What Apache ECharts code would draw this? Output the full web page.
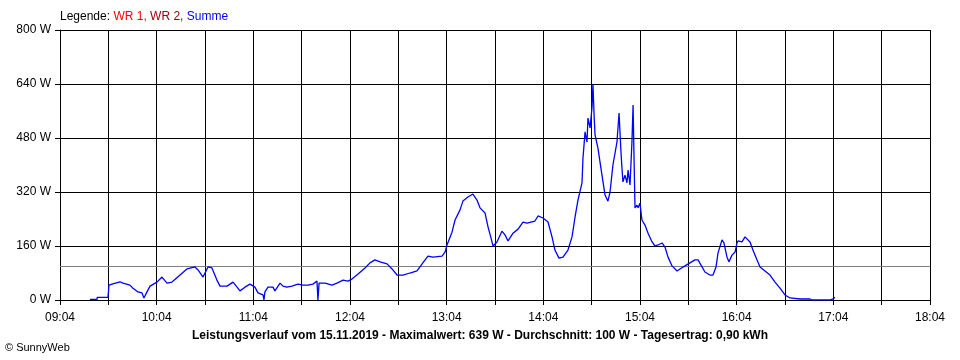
<!DOCTYPE html>
<html>
<head>
<meta charset="utf-8">
<script src="https://cdn.jsdelivr.net/npm/echarts@6/dist/echarts.min.js"></script>
<style>html,body{margin:0;padding:0;background:#fff}#c{width:960px;height:360px}</style>
</head>
<body>
<div id="c"></div>
<script>
// ---- data ----
const startTime = "09:04";
const endTime = "18:04";
const yTicks = [0, 160, 320, 480, 640, 800];
const average = 100;
const maximum = 639;
const dailyYield = "0,90";
const dateText = "15.11.2019";
const times = ["09:22:36","09:27:00","09:27:06","09:33:48","09:34:24","09:36:18","09:41:12","09:43:06","09:47:24","09:49:18","09:52:24","09:54:54","09:56:06","09:58:00","09:59:54","10:04:12","10:07:18","10:10:24","10:13:30","10:18:30","10:22:48","10:27:48","10:29:42","10:32:48","10:34:00","10:35:54","10:38:18","10:41:24","10:43:18","10:47:42","10:51:24","10:53:54","10:55:42","10:58:48","11:01:54","11:05:00","11:06:54","11:10:00","11:10:36","11:11:12","11:13:06","11:16:12","11:17:24","11:20:36","11:22:24","11:24:54","11:28:00","11:31:42","11:34:48","11:37:54","11:41:00","11:43:30","11:44:06","11:44:48","11:48:30","11:52:48","11:55:54","11:59:42","12:02:48","12:05:12","12:09:00","12:13:18","12:16:24","12:19:30","12:22:36","12:27:00","12:30:06","12:33:12","12:36:54","12:41:12","12:45:36","12:47:24","12:50:36","12:52:24","12:55:30","13:01:06","13:03:00","13:04:12","13:07:18","13:09:12","13:12:18","13:14:06","13:17:12","13:20:18","13:22:48","13:24:42","13:27:48","13:29:42","13:31:30","13:32:48","13:35:12","13:38:18","13:40:12","13:42:06","13:45:12","13:48:18","13:51:24","13:53:54","13:58:48","14:00:42","14:03:48","14:06:54","14:09:24","14:11:12","14:13:42","14:16:12","14:19:18","14:21:48","14:23:42","14:25:30","14:28:00","14:28:36","14:29:54","14:31:06","14:31:42","14:33:00","14:34:12","14:34:48","14:35:30","14:36:06","14:37:54","14:40:24","14:42:18","14:44:06","14:45:24","14:47:12","14:49:42","14:51:00","14:52:12","14:52:48","14:53:24","14:54:42","14:55:54","14:56:36","14:57:48","14:59:00","14:59:42","15:00:18","15:00:54","15:02:06","15:02:48","15:04:00","15:05:12","15:07:06","15:09:00","15:11:30","15:13:18","15:15:12","15:17:42","15:19:30","15:21:24","15:23:54","15:27:00","15:28:48","15:31:54","15:35:00","15:38:06","15:40:00","15:42:30","15:44:18","15:47:24","15:49:18","15:51:12","15:52:24","15:54:54","15:56:06","15:58:00","15:59:12","16:01:06","16:03:00","16:04:12","16:04:48","16:07:18","16:09:12","16:10:24","16:12:18","16:14:06","16:16:36","16:18:30","16:21:36","16:24:42","16:27:48","16:30:54","16:34:00","16:37:06","16:43:18","16:49:30","16:50:48","17:01:54","17:03:48","17:05:00"];
const summeW = [2,2,8,8,44,47,54,50,44,35,24,21,6,24,41,53,68,50,53,74,92,98,89,68,80,98,95,59,41,41,53,38,27,38,47,38,21,15,0,24,38,38,27,50,41,38,41,47,44,44,47,56,0,50,50,44,50,59,56,62,77,95,110,119,113,107,92,74,74,80,86,98,119,130,127,130,142,163,201,237,267,293,305,314,296,273,258,216,184,160,172,204,193,175,198,210,231,228,234,249,243,231,187,148,124,127,148,187,246,296,347,420,498,468,539,510,569,639,548,489,450,370,311,293,320,400,468,554,438,391,350,370,347,385,341,468,578,420,273,281,273,287,237,222,198,172,160,163,169,157,127,101,86,92,101,110,119,119,98,83,74,74,98,139,178,169,127,113,133,142,169,175,172,187,187,172,148,119,98,86,74,53,35,15,6,3,3,0,0,3,8];

// ---- helpers ----
function toMin(t){const p=t.split(':').map(Number);return p[0]*60+p[1]+(p[2]||0)/60;}
const t0 = toMin(startTime), t1 = toMin(endTime);
function fmt(m){const tot=Math.round(m+t0);const h=Math.floor(tot/60),mm=tot%60;return String(h).padStart(2,'0')+':'+String(mm).padStart(2,'0');}
const seriesData = times.map((t,i)=>[toMin(t)-t0, summeW[i]]);

const font = "'Liberation Sans', Arial, sans-serif";
const chart = echarts.init(document.getElementById('c'), null, {renderer:'canvas'});
chart.setOption({
  animation:false,
  backgroundColor:'#ffffff',
  grid:{left:60,right:30,top:30,bottom:60,containLabel:false},
  xAxis:{
    type:'value', min:0, max:t1-t0, interval:30,
    axisLine:{show:true,lineStyle:{color:'#000',width:1}},
    axisTick:{show:true,inside:false,length:5,lineStyle:{color:'#000'}},
    splitLine:{show:true,lineStyle:{color:'#000',width:1}},
    axisLabel:{show:true,margin:12,color:'#000',fontFamily:font,fontSize:12,showMinLabel:true,showMaxLabel:true,
      formatter:function(v){return (v%60===0)?fmt(v):'';}}
  },
  yAxis:{
    type:'value', min:yTicks[0], max:yTicks[yTicks.length-1], interval:yTicks[1]-yTicks[0],
    axisLine:{show:true,lineStyle:{color:'#000',width:1}},
    axisTick:{show:true,inside:false,length:5,lineStyle:{color:'#000'}},
    splitLine:{show:true,lineStyle:{color:'#000',width:1}},
    axisLabel:{margin:9,color:'#000',fontFamily:font,fontSize:12,formatter:'{value} W'}
  },
  series:[{
    name:'Summe', type:'line', data:seriesData, showSymbol:false, symbol:'none',
    lineStyle:{color:'#0000ff',width:1.3}, z:5,
    markLine:{silent:true,symbol:'none',label:{show:false},
      lineStyle:{color:'#808080',type:'solid',width:1},
      data:[{yAxis:average}]}
  }],
  graphic:[
    {type:'text',left:60,top:11,style:{
      text:'{k|Legende: }{a|WR 1, }{b|WR 2, }{c|Summe}',
      rich:{k:{fill:'#000',fontFamily:font,fontSize:12},a:{fill:'#ff0000',fontFamily:font,fontSize:12},
            b:{fill:'#a00000',fontFamily:font,fontSize:12},c:{fill:'#0000ff',fontFamily:font,fontSize:12}}}},
    {type:'text',left:'center',top:330,style:{
      text:'Leistungsverlauf vom '+dateText+' - Maximalwert: '+maximum+' W - Durchschnitt: '+average+' W - Tagesertrag: '+dailyYield+' kWh',
      fill:'#000',fontFamily:font,fontSize:12,fontWeight:'bold'}},
    {type:'text',left:5,top:342,style:{text:'\u00A9 SunnyWeb',fill:'#000',fontFamily:font,fontSize:11}}
  ]
});
</script>
</body>
</html>
